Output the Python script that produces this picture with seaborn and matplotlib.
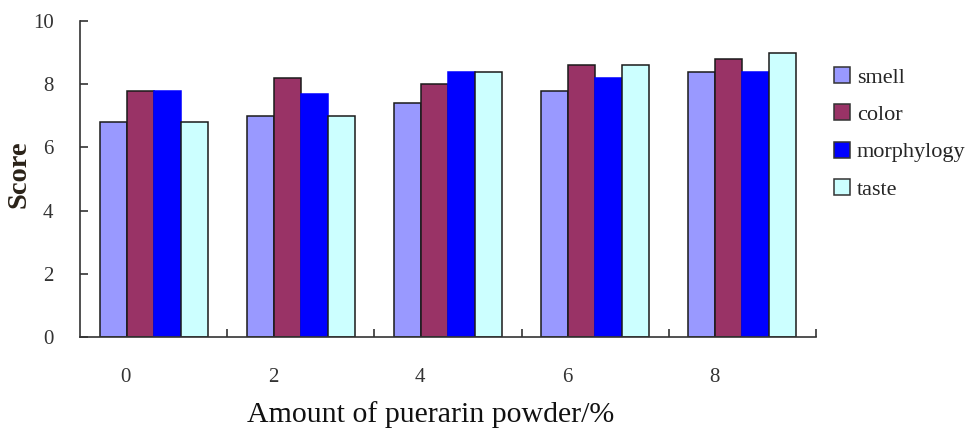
import numpy as np
import pandas as pd
import matplotlib
matplotlib.use("Agg")
import matplotlib.pyplot as plt
import seaborn as sns

# data
categories = ["0", "2", "4", "6", "8"]
smell = [6.8, 7.0, 7.4, 7.8, 8.4]
color = [7.8, 8.2, 8.0, 8.6, 8.8]
morphylogy = [7.8, 7.7, 8.4, 8.2, 8.4]
taste = [6.8, 7.0, 8.4, 8.6, 9.0]
series_names = ["smell", "color", "morphylogy", "taste"]
y_ticks = [0, 2, 4, 6, 8, 10]

palette = ["#9999FF", "#993366", "#0000FF", "#CCFFFF"]

rows = []
for name, vals in zip(series_names, [smell, color, morphylogy, taste]):
    for c, v in zip(categories, vals):
        rows.append({"amount": c, "attr": name, "score": v})
df = pd.DataFrame(rows)

sns.set_style("white")
plt.rcParams["font.family"] = ["Liberation Serif", "DejaVu Serif"]

fig = plt.figure(figsize=(9.65, 4.30), dpi=100)
ax = fig.add_axes([80 / 965, 93 / 430, 736 / 965, 316 / 430])

sns.barplot(data=df, x="amount", y="score", hue="attr", order=categories,
            hue_order=series_names, palette=palette, width=0.733, gap=0,
            edgecolor="#1a1a1a", linewidth=1.1, saturation=1, ax=ax,
            errorbar=None, legend=True)

# morphology bars: no dark outline
for bar in ax.containers[2]:
    bar.set_edgecolor("#0000FF")

ax.set_xlim(-0.5, len(categories) - 0.5)
ax.set_ylim(0, 10)

for s in ["top", "right"]:
    ax.spines[s].set_visible(False)
for s in ["left", "bottom"]:
    ax.spines[s].set_color("#333333")
    ax.spines[s].set_linewidth(1.2)

ax.set_yticks(y_ticks)
ax.set_yticklabels([str(t) for t in y_ticks])
ax.tick_params(axis="y", direction="in", length=6, width=1.2, color="#333333",
               labelsize=15, labelcolor="#333333", pad=19, left=True)

pos = np.arange(len(categories))
ax.set_xticks(pos - 0.19)
ax.set_xticklabels(categories)
ax.tick_params(axis="x", which="major", length=0, labelsize=15,
               labelcolor="#333333", pad=22, bottom=True)
ax.set_xticks(list(pos[:-1] + 0.5) + [len(categories) - 0.5], minor=True)
ax.tick_params(axis="x", which="minor", direction="in", length=6, width=1.2,
               color="#333333", bottom=True)

ax.set_xlabel("")
ax.set_ylabel("")
fig.text(19 / 965, 1 - 174 / 430, "Score", rotation=90, ha="center", va="center",
         fontsize=20.5, fontweight="bold", color="#2a2218")
fig.text(431 / 965, 8 / 430, "Amount of puerarin powder/%", ha="center",
         va="baseline", fontsize=21.5, color="#111111")

handles, labels = ax.get_legend_handles_labels()
if ax.legend_:
    ax.legend_.remove()
leg = fig.legend(handles, labels, loc="upper left",
                 bbox_to_anchor=(834 / 965, 1 - 67 / 430), frameon=False,
                 fontsize=16, handlelength=0.72, handleheight=0.72,
                 handletextpad=0.3, labelspacing=0.75, borderpad=0,
                 borderaxespad=0)
for h in leg.legend_handles:
    h.set_edgecolor("#333333")
    h.set_linewidth(1.1)

fig.savefig("out.png", dpi=100)
